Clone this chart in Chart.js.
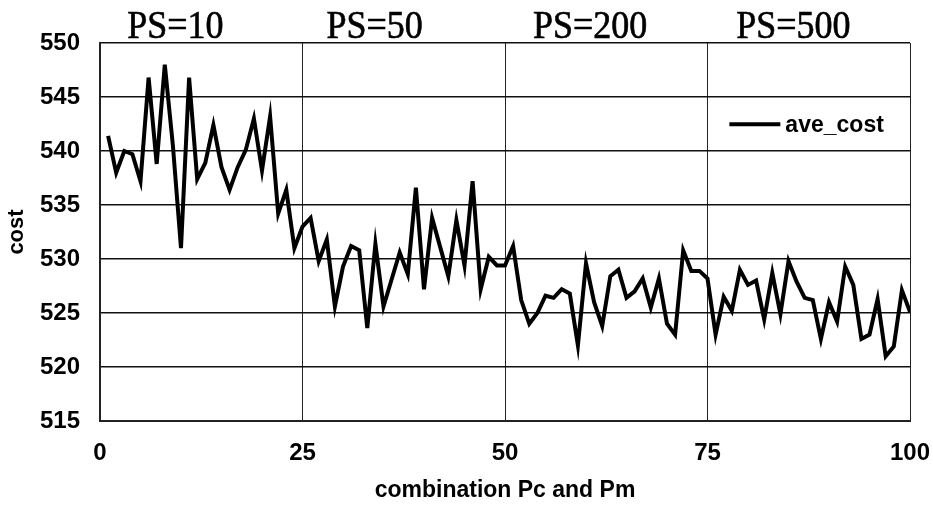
<!DOCTYPE html>
<html>
<head>
<meta charset="utf-8">
<script src="https://cdn.jsdelivr.net/npm/chart.js@4.4.1/dist/chart.umd.min.js"></script>
<style>
  html, body { margin: 0; padding: 0; background: #fff; }
  #wrap { width: 933px; height: 508px; position: relative; }
</style>
</head>
<body>
<div id="wrap"><canvas id="c"></canvas></div>
<script>
const combos = [1,2,3,4,5,6,7,8,9,10,11,12,13,14,15,16,17,18,19,20,21,22,23,24,25,
  26,27,28,29,30,31,32,33,34,35,36,37,38,39,40,41,42,43,44,45,46,47,48,49,50,
  51,52,53,54,55,56,57,58,59,60,61,62,63,64,65,66,67,68,69,70,71,72,73,74,75,
  76,77,78,79,80,81,82,83,84,85,86,87,88,89,90,91,92,93,94,95,96,97,98,99,100];
const aveCost = [541.4,538.0,540.0,539.7,537.2,546.8,538.8,548.0,540.5,531.0,
  546.8,537.4,538.9,542.4,538.5,536.4,538.5,540.1,543.0,538.2,
  543.2,534.2,536.4,531.0,533.0,533.8,529.8,531.8,525.6,529.3,
  531.2,530.8,523.6,531.4,525.6,528.1,530.6,528.6,536.6,527.2,
  533.8,531.1,528.4,533.6,529.4,537.2,527.2,530.2,529.4,529.4,
  531.2,526.2,524.0,525.0,526.6,526.4,527.2,526.8,522.0,529.6,
  526.0,523.8,528.4,529.0,526.4,527.0,528.2,525.5,528.2,524.0,
  523.0,530.8,528.9,528.9,528.2,523.0,526.5,525.2,529.0,527.6,
  528.0,524.4,528.7,524.9,529.8,527.9,526.4,526.2,522.6,526.0,
  524.2,529.3,527.6,522.6,523.0,526.3,521.0,521.9,527.1,525.1];
const seriesLabel = 'ave_cost';
const psLabels = ['PS=10','PS=50','PS=200','PS=500'];
const xTicks = [0,25,50,75,100];
const yTicks = [515,520,525,530,535,540,545,550];

const points = combos.map((c, i) => ({x: c, y: aveCost[i]}));

const psPlugin = {
  id: 'psLabels',
  afterDraw(chart, args, opts) {
    const ctx = chart.ctx;
    const xs = chart.scales.x;
    ctx.save();
    ctx.fillStyle = '#000';
    ctx.strokeStyle = '#000';
    ctx.lineWidth = 0.6;
    ctx.font = '36px "Liberation Serif", "Times New Roman", serif';
    ctx.textAlign = 'center';
    ctx.textBaseline = 'alphabetic';
    psLabels.forEach((t, i) => {
      const px = xs.getPixelForValue(opts.anchors[i]);
      ctx.save();
      ctx.translate(px, 38);
      ctx.scale(1, 1.12);
      ctx.fillText(t, 0, 0);
      ctx.strokeText(t, 0, 0);
      ctx.restore();
    });
    ctx.restore();
  }
};

const legendPlugin = {
  id: 'innerLegend',
  afterDraw(chart, args, opts) {
    const ctx = chart.ctx;
    const a = chart.chartArea;
    const x0 = a.left + (a.right - a.left) * opts.fx;
    const y0 = a.top + (a.bottom - a.top) * opts.fy;
    ctx.save();
    ctx.strokeStyle = '#000';
    ctx.lineWidth = 4;
    ctx.beginPath();
    ctx.moveTo(x0, y0);
    ctx.lineTo(x0 + 51, y0);
    ctx.stroke();
    ctx.fillStyle = '#000';
    ctx.font = 'bold 23px "Liberation Sans", Arial, sans-serif';
    ctx.textAlign = 'left';
    ctx.textBaseline = 'middle';
    ctx.fillText(chart.data.datasets[0].label, x0 + 56, y0 + 1);
    ctx.restore();
  }
};

new Chart(document.getElementById('c'), {
  type: 'line',
  data: {
    datasets: [{
      label: seriesLabel,
      data: points,
      borderColor: '#000',
      borderWidth: 4,
      pointRadius: 0,
      tension: 0,
      fill: false
    }]
  },
  options: {
    responsive: true,
    maintainAspectRatio: false,
    animation: false,
    layout: { padding: { top: 43, right: 23, left: 0, bottom: 0 } },
    plugins: {
      legend: { display: false },
      tooltip: { enabled: false },
      psLabels: { anchors: [9.3, 33.9, 60.5, 85.6] },
      innerLegend: { fx: 0.777, fy: 0.215 }
    },
    scales: {
      x: {
        type: 'linear',
        min: 0, max: 100,
        afterFit(s) { s.height = 87; s.paddingLeft = 0; s.paddingRight = 0; },
        afterBuildTicks(s) { s.ticks = xTicks.map(v => ({value: v})); },
        ticks: {
          color: '#000',
          padding: 18,
          maxRotation: 0,
          font: { family: '"Liberation Sans", Arial, sans-serif', size: 24, weight: 'bold' }
        },
        grid: { color: '#222', lineWidth: 1, drawTicks: false },
        border: { color: '#222', width: 2 },
        title: {
          display: true,
          text: 'combination Pc and Pm',
          color: '#000',
          padding: { top: 4, bottom: 4 },
          font: { family: '"Liberation Sans", Arial, sans-serif', size: 23, weight: 'bold' }
        }
      },
      y: {
        min: 515, max: 550,
        afterFit(s) { s.width = 100; s.paddingTop = 0; s.paddingBottom = 0; },
        afterBuildTicks(s) { s.ticks = yTicks.map(v => ({value: v})); },
        ticks: {
          color: '#000',
          padding: 20,
          font: { family: '"Liberation Sans", Arial, sans-serif', size: 24, weight: 'bold' }
        },
        grid: { color: '#111', lineWidth: 1.6, drawTicks: false },
        border: { color: '#222', width: 2 },
        title: {
          display: true,
          text: 'cost',
          color: '#000',
          padding: { top: 4, bottom: 4 },
          font: { family: '"Liberation Sans", Arial, sans-serif', size: 22, weight: 'bold' }
        }
      }
    }
  },
  plugins: [psPlugin, legendPlugin]
});
</script>
</body>
</html>
